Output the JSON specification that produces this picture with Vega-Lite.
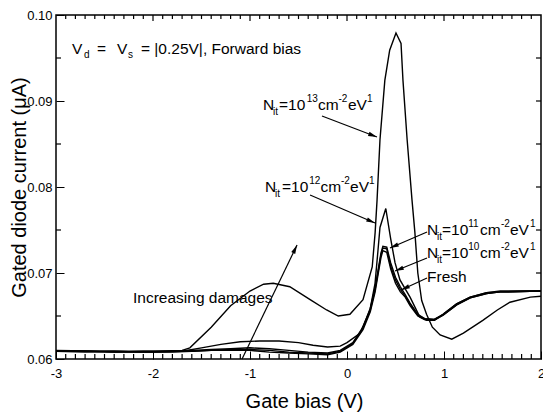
{
  "$schema": "https://vega.github.io/schema/vega-lite/v6.json",
  "width": 485,
  "height": 344,
  "autosize": {"type": "none"},
  "padding": {"left": 56, "top": 15, "right": 2, "bottom": 54},
  "background": "white",
  "config": {
    "view": {"stroke": "black", "strokeWidth": 1.5},
    "font": "Liberation Sans",
    "axis": {"grid": false, "domain": false, "labelColor": "black", "titleColor": "black", "tickColor": "black", "tickWidth": 1, "labelFlush": false, "labelOverlap": false}
  },
  "datasets": {
    "curves": [
      {"s": "Fresh", "x": -3, "y": 0.0609}, {"s": "Fresh", "x": -2.7, "y": 0.0609}, {"s": "Fresh", "x": -2.4, "y": 0.0608}, {"s": "Fresh", "x": -2.1, "y": 0.0608}, {"s": "Fresh", "x": -1.8, "y": 0.0608}, {"s": "Fresh", "x": -1.6, "y": 0.0609}, {"s": "Fresh", "x": -1.4, "y": 0.0610}, {"s": "Fresh", "x": -1.2, "y": 0.0610}, {"s": "Fresh", "x": -1.0, "y": 0.0610}, {"s": "Fresh", "x": -0.8, "y": 0.0608}, {"s": "Fresh", "x": -0.6, "y": 0.0607}, {"s": "Fresh", "x": -0.4, "y": 0.0606}, {"s": "Fresh", "x": -0.2, "y": 0.0605}, {"s": "Fresh", "x": -0.07, "y": 0.0608}, {"s": "Fresh", "x": 0.06, "y": 0.0617}, {"s": "Fresh", "x": 0.165, "y": 0.0634}, {"s": "Fresh", "x": 0.24, "y": 0.0655}, {"s": "Fresh", "x": 0.29, "y": 0.0678}, {"s": "Fresh", "x": 0.32, "y": 0.0698}, {"s": "Fresh", "x": 0.35, "y": 0.0718}, {"s": "Fresh", "x": 0.37, "y": 0.0726}, {"s": "Fresh", "x": 0.41, "y": 0.0724}, {"s": "Fresh", "x": 0.45, "y": 0.0705}, {"s": "Fresh", "x": 0.5, "y": 0.0688}, {"s": "Fresh", "x": 0.55, "y": 0.0678}, {"s": "Fresh", "x": 0.6, "y": 0.0672}, {"s": "Fresh", "x": 0.65, "y": 0.0662}, {"s": "Fresh", "x": 0.73, "y": 0.0650}, {"s": "Fresh", "x": 0.8, "y": 0.0646}, {"s": "Fresh", "x": 0.9, "y": 0.0645}, {"s": "Fresh", "x": 0.99, "y": 0.0651}, {"s": "Fresh", "x": 1.13, "y": 0.0663}, {"s": "Fresh", "x": 1.27, "y": 0.0671}, {"s": "Fresh", "x": 1.44, "y": 0.0676}, {"s": "Fresh", "x": 1.58, "y": 0.0678}, {"s": "Fresh", "x": 2.0, "y": 0.0679},
      {"s": "e10", "x": -3, "y": 0.0609}, {"s": "e10", "x": -2.7, "y": 0.0608}, {"s": "e10", "x": -2.4, "y": 0.0609}, {"s": "e10", "x": -2.1, "y": 0.0608}, {"s": "e10", "x": -1.8, "y": 0.0609}, {"s": "e10", "x": -1.6, "y": 0.0609}, {"s": "e10", "x": -1.4, "y": 0.0610}, {"s": "e10", "x": -1.2, "y": 0.0611}, {"s": "e10", "x": -1.0, "y": 0.0611}, {"s": "e10", "x": -0.8, "y": 0.0610}, {"s": "e10", "x": -0.6, "y": 0.0608}, {"s": "e10", "x": -0.4, "y": 0.0607}, {"s": "e10", "x": -0.2, "y": 0.0606}, {"s": "e10", "x": -0.07, "y": 0.0609}, {"s": "e10", "x": 0.06, "y": 0.0618}, {"s": "e10", "x": 0.165, "y": 0.0636}, {"s": "e10", "x": 0.24, "y": 0.0657}, {"s": "e10", "x": 0.29, "y": 0.0681}, {"s": "e10", "x": 0.32, "y": 0.0701}, {"s": "e10", "x": 0.35, "y": 0.0721}, {"s": "e10", "x": 0.37, "y": 0.0729}, {"s": "e10", "x": 0.41, "y": 0.0728}, {"s": "e10", "x": 0.45, "y": 0.0708}, {"s": "e10", "x": 0.5, "y": 0.0692}, {"s": "e10", "x": 0.55, "y": 0.0681}, {"s": "e10", "x": 0.6, "y": 0.0673}, {"s": "e10", "x": 0.65, "y": 0.0664}, {"s": "e10", "x": 0.73, "y": 0.0651}, {"s": "e10", "x": 0.8, "y": 0.0647}, {"s": "e10", "x": 0.9, "y": 0.0646}, {"s": "e10", "x": 0.99, "y": 0.0652}, {"s": "e10", "x": 1.13, "y": 0.0664}, {"s": "e10", "x": 1.27, "y": 0.0672}, {"s": "e10", "x": 1.44, "y": 0.0677}, {"s": "e10", "x": 1.58, "y": 0.0678}, {"s": "e10", "x": 2.0, "y": 0.0679},
      {"s": "e11", "x": -3, "y": 0.0609}, {"s": "e11", "x": -2.7, "y": 0.0609}, {"s": "e11", "x": -2.4, "y": 0.0608}, {"s": "e11", "x": -2.1, "y": 0.0609}, {"s": "e11", "x": -1.8, "y": 0.0609}, {"s": "e11", "x": -1.6, "y": 0.0610}, {"s": "e11", "x": -1.4, "y": 0.0611}, {"s": "e11", "x": -1.2, "y": 0.0612}, {"s": "e11", "x": -1.0, "y": 0.0613}, {"s": "e11", "x": -0.8, "y": 0.0612}, {"s": "e11", "x": -0.6, "y": 0.0610}, {"s": "e11", "x": -0.4, "y": 0.0608}, {"s": "e11", "x": -0.2, "y": 0.0607}, {"s": "e11", "x": -0.07, "y": 0.0610}, {"s": "e11", "x": 0.06, "y": 0.0619}, {"s": "e11", "x": 0.165, "y": 0.0637}, {"s": "e11", "x": 0.24, "y": 0.0659}, {"s": "e11", "x": 0.29, "y": 0.0683}, {"s": "e11", "x": 0.32, "y": 0.0703}, {"s": "e11", "x": 0.35, "y": 0.0723}, {"s": "e11", "x": 0.37, "y": 0.0731}, {"s": "e11", "x": 0.41, "y": 0.0730}, {"s": "e11", "x": 0.45, "y": 0.0712}, {"s": "e11", "x": 0.5, "y": 0.0695}, {"s": "e11", "x": 0.55, "y": 0.0684}, {"s": "e11", "x": 0.6, "y": 0.0675}, {"s": "e11", "x": 0.65, "y": 0.0665}, {"s": "e11", "x": 0.73, "y": 0.0652}, {"s": "e11", "x": 0.8, "y": 0.0647}, {"s": "e11", "x": 0.9, "y": 0.0646}, {"s": "e11", "x": 0.99, "y": 0.0651}, {"s": "e11", "x": 1.13, "y": 0.0663}, {"s": "e11", "x": 1.27, "y": 0.0671}, {"s": "e11", "x": 1.44, "y": 0.0676}, {"s": "e11", "x": 1.58, "y": 0.0678}, {"s": "e11", "x": 2.0, "y": 0.0679},
      {"s": "e12", "x": -3, "y": 0.0609}, {"s": "e12", "x": -2.5, "y": 0.0609}, {"s": "e12", "x": -2.0, "y": 0.0608}, {"s": "e12", "x": -1.7, "y": 0.0609}, {"s": "e12", "x": -1.5, "y": 0.0613}, {"s": "e12", "x": -1.3, "y": 0.0617}, {"s": "e12", "x": -1.1, "y": 0.0620}, {"s": "e12", "x": -0.9, "y": 0.0621}, {"s": "e12", "x": -0.7, "y": 0.0621}, {"s": "e12", "x": -0.5, "y": 0.0619}, {"s": "e12", "x": -0.35, "y": 0.0616}, {"s": "e12", "x": -0.2, "y": 0.0614}, {"s": "e12", "x": -0.07, "y": 0.0615}, {"s": "e12", "x": 0.0, "y": 0.0619}, {"s": "e12", "x": 0.134, "y": 0.0630}, {"s": "e12", "x": 0.237, "y": 0.0657}, {"s": "e12", "x": 0.289, "y": 0.0688}, {"s": "e12", "x": 0.32, "y": 0.0727}, {"s": "e12", "x": 0.34, "y": 0.0753}, {"s": "e12", "x": 0.40, "y": 0.0775}, {"s": "e12", "x": 0.45, "y": 0.0740}, {"s": "e12", "x": 0.495, "y": 0.0712}, {"s": "e12", "x": 0.546, "y": 0.0692}, {"s": "e12", "x": 0.65, "y": 0.0672}, {"s": "e12", "x": 0.75, "y": 0.0649}, {"s": "e12", "x": 0.82, "y": 0.0645}, {"s": "e12", "x": 0.9, "y": 0.0645}, {"s": "e12", "x": 0.99, "y": 0.0652}, {"s": "e12", "x": 1.13, "y": 0.0664}, {"s": "e12", "x": 1.27, "y": 0.0672}, {"s": "e12", "x": 1.44, "y": 0.0677}, {"s": "e12", "x": 1.58, "y": 0.0679}, {"s": "e12", "x": 2.0, "y": 0.0679},
      {"s": "e13", "x": -3, "y": 0.0610}, {"s": "e13", "x": -2.5, "y": 0.0609}, {"s": "e13", "x": -2.0, "y": 0.0609}, {"s": "e13", "x": -1.7, "y": 0.0610}, {"s": "e13", "x": -1.62, "y": 0.0613}, {"s": "e13", "x": -1.4, "y": 0.0637}, {"s": "e13", "x": -1.2, "y": 0.0662}, {"s": "e13", "x": -1.0, "y": 0.0679}, {"s": "e13", "x": -0.86, "y": 0.0687}, {"s": "e13", "x": -0.76, "y": 0.0688}, {"s": "e13", "x": -0.59, "y": 0.0684}, {"s": "e13", "x": -0.38, "y": 0.0669}, {"s": "e13", "x": -0.21, "y": 0.0657}, {"s": "e13", "x": -0.09, "y": 0.0650}, {"s": "e13", "x": 0.03, "y": 0.0652}, {"s": "e13", "x": 0.165, "y": 0.0669}, {"s": "e13", "x": 0.26, "y": 0.0707}, {"s": "e13", "x": 0.29, "y": 0.0747}, {"s": "e13", "x": 0.31, "y": 0.0785}, {"s": "e13", "x": 0.34, "y": 0.0855}, {"s": "e13", "x": 0.39, "y": 0.0924}, {"s": "e13", "x": 0.44, "y": 0.0959}, {"s": "e13", "x": 0.505, "y": 0.0979}, {"s": "e13", "x": 0.557, "y": 0.0967}, {"s": "e13", "x": 0.577, "y": 0.0924}, {"s": "e13", "x": 0.62, "y": 0.0855}, {"s": "e13", "x": 0.67, "y": 0.0785}, {"s": "e13", "x": 0.70, "y": 0.0747}, {"s": "e13", "x": 0.73, "y": 0.0700}, {"s": "e13", "x": 0.77, "y": 0.0668}, {"s": "e13", "x": 0.82, "y": 0.0652}, {"s": "e13", "x": 0.88, "y": 0.0637}, {"s": "e13", "x": 0.96, "y": 0.0628}, {"s": "e13", "x": 1.08, "y": 0.0623}, {"s": "e13", "x": 1.2, "y": 0.0630}, {"s": "e13", "x": 1.4, "y": 0.0645}, {"s": "e13", "x": 1.55, "y": 0.0657}, {"s": "e13", "x": 1.68, "y": 0.0666}, {"s": "e13", "x": 1.89, "y": 0.0672}, {"s": "e13", "x": 2.0, "y": 0.0673}
    ],
    "textMain": [
      {"t": "V", "x": -2.835, "y": 0.095465},
      {"t": "=", "x": -2.577, "y": 0.095465},
      {"t": "V", "x": -2.371, "y": 0.095465},
      {"t": "= |0.25V|, Forward bias", "x": -2.124, "y": 0.095465},
      {"t": "N", "x": -0.866, "y": 0.088953}, {"t": "=10", "x": -0.701, "y": 0.088953}, {"t": "cm", "x": -0.299, "y": 0.088953}, {"t": "eV", "x": 0.010, "y": 0.088953},
      {"t": "N", "x": -0.845, "y": 0.079419}, {"t": "=10", "x": -0.670, "y": 0.079419}, {"t": "cm", "x": -0.273, "y": 0.079419}, {"t": "eV", "x": 0.031, "y": 0.079419},
      {"t": "N", "x": 0.825, "y": 0.074419}, {"t": "=10", "x": 0.979, "y": 0.074419}, {"t": "cm", "x": 1.371, "y": 0.074419}, {"t": "eV", "x": 1.680, "y": 0.074419},
      {"t": "N", "x": 0.825, "y": 0.071744}, {"t": "=10", "x": 0.979, "y": 0.071744}, {"t": "cm", "x": 1.371, "y": 0.071744}, {"t": "eV", "x": 1.680, "y": 0.071744},
      {"t": "Fresh", "x": 0.825, "y": 0.068953},
      {"t": "Increasing damages", "x": -2.206, "y": 0.066512}
    ],
    "textScript": [
      {"t": "d", "x": -2.711, "y": 0.0950},
      {"t": "s", "x": -2.258, "y": 0.0950},
      {"t": "it", "x": -0.763, "y": 0.088372}, {"t": "13", "x": -0.416, "y": 0.089884}, {"t": "-2", "x": -0.088, "y": 0.089884}, {"t": "1", "x": 0.206, "y": 0.089884},
      {"t": "it", "x": -0.742, "y": 0.078837}, {"t": "12", "x": -0.390, "y": 0.080349}, {"t": "-2", "x": -0.062, "y": 0.080349}, {"t": "1", "x": 0.227, "y": 0.080349},
      {"t": "it", "x": 0.928, "y": 0.073837}, {"t": "11", "x": 1.250, "y": 0.075349}, {"t": "-2", "x": 1.588, "y": 0.075349}, {"t": "1", "x": 1.887, "y": 0.075349},
      {"t": "it", "x": 0.928, "y": 0.071163}, {"t": "10", "x": 1.250, "y": 0.072674}, {"t": "-2", "x": 1.588, "y": 0.072674}, {"t": "1", "x": 1.887, "y": 0.072674}
    ],
    "arrows": [
      {"k": "a", "x": -0.258, "y": 0.088256, "x2": 0.309, "y2": 0.085814},
      {"k": "a", "x": -0.381, "y": 0.079070, "x2": 0.289, "y2": 0.075814},
      {"k": "a", "x": 0.825, "y": 0.074767, "x2": 0.443, "y2": 0.072907},
      {"k": "a", "x": 0.825, "y": 0.071744, "x2": 0.495, "y2": 0.070233},
      {"k": "a", "x": 0.825, "y": 0.069419, "x2": 0.557, "y2": 0.068023},
      {"k": "a", "x": -1.082, "y": 0.0600, "x2": -0.515, "y2": 0.073256},
      {"k": "t", "x": -2.9, "y": 0.06, "x2": -2.9, "y2": 0.06058}, {"k": "t", "x": -2.8, "y": 0.06, "x2": -2.8, "y2": 0.06058}, {"k": "t", "x": -2.7, "y": 0.06, "x2": -2.7, "y2": 0.06058}, {"k": "t", "x": -2.6, "y": 0.06, "x2": -2.6, "y2": 0.06058}, {"k": "t", "x": -2.5, "y": 0.06, "x2": -2.5, "y2": 0.06058}, {"k": "t", "x": -2.4, "y": 0.06, "x2": -2.4, "y2": 0.06058}, {"k": "t", "x": -2.3, "y": 0.06, "x2": -2.3, "y2": 0.06058}, {"k": "t", "x": -2.2, "y": 0.06, "x2": -2.2, "y2": 0.06058}, {"k": "t", "x": -2.1, "y": 0.06, "x2": -2.1, "y2": 0.06058},
      {"k": "t", "x": -1.9, "y": 0.06, "x2": -1.9, "y2": 0.06058}, {"k": "t", "x": -1.8, "y": 0.06, "x2": -1.8, "y2": 0.06058}, {"k": "t", "x": -1.7, "y": 0.06, "x2": -1.7, "y2": 0.06058}, {"k": "t", "x": -1.6, "y": 0.06, "x2": -1.6, "y2": 0.06058}, {"k": "t", "x": -1.5, "y": 0.06, "x2": -1.5, "y2": 0.06058}, {"k": "t", "x": -1.4, "y": 0.06, "x2": -1.4, "y2": 0.06058}, {"k": "t", "x": -1.3, "y": 0.06, "x2": -1.3, "y2": 0.06058}, {"k": "t", "x": -1.2, "y": 0.06, "x2": -1.2, "y2": 0.06058}, {"k": "t", "x": -1.1, "y": 0.06, "x2": -1.1, "y2": 0.06058},
      {"k": "t", "x": -0.9, "y": 0.06, "x2": -0.9, "y2": 0.06058}, {"k": "t", "x": -0.8, "y": 0.06, "x2": -0.8, "y2": 0.06058}, {"k": "t", "x": -0.7, "y": 0.06, "x2": -0.7, "y2": 0.06058}, {"k": "t", "x": -0.6, "y": 0.06, "x2": -0.6, "y2": 0.06058}, {"k": "t", "x": -0.5, "y": 0.06, "x2": -0.5, "y2": 0.06058}, {"k": "t", "x": -0.4, "y": 0.06, "x2": -0.4, "y2": 0.06058}, {"k": "t", "x": -0.3, "y": 0.06, "x2": -0.3, "y2": 0.06058}, {"k": "t", "x": -0.2, "y": 0.06, "x2": -0.2, "y2": 0.06058}, {"k": "t", "x": -0.1, "y": 0.06, "x2": -0.1, "y2": 0.06058},
      {"k": "t", "x": 0.1, "y": 0.06, "x2": 0.1, "y2": 0.06058}, {"k": "t", "x": 0.2, "y": 0.06, "x2": 0.2, "y2": 0.06058}, {"k": "t", "x": 0.3, "y": 0.06, "x2": 0.3, "y2": 0.06058}, {"k": "t", "x": 0.4, "y": 0.06, "x2": 0.4, "y2": 0.06058}, {"k": "t", "x": 0.5, "y": 0.06, "x2": 0.5, "y2": 0.06058}, {"k": "t", "x": 0.6, "y": 0.06, "x2": 0.6, "y2": 0.06058}, {"k": "t", "x": 0.7, "y": 0.06, "x2": 0.7, "y2": 0.06058}, {"k": "t", "x": 0.8, "y": 0.06, "x2": 0.8, "y2": 0.06058}, {"k": "t", "x": 0.9, "y": 0.06, "x2": 0.9, "y2": 0.06058},
      {"k": "t", "x": 1.1, "y": 0.06, "x2": 1.1, "y2": 0.06058}, {"k": "t", "x": 1.2, "y": 0.06, "x2": 1.2, "y2": 0.06058}, {"k": "t", "x": 1.3, "y": 0.06, "x2": 1.3, "y2": 0.06058}, {"k": "t", "x": 1.4, "y": 0.06, "x2": 1.4, "y2": 0.06058}, {"k": "t", "x": 1.5, "y": 0.06, "x2": 1.5, "y2": 0.06058}, {"k": "t", "x": 1.6, "y": 0.06, "x2": 1.6, "y2": 0.06058}, {"k": "t", "x": 1.7, "y": 0.06, "x2": 1.7, "y2": 0.06058}, {"k": "t", "x": 1.8, "y": 0.06, "x2": 1.8, "y2": 0.06058}, {"k": "t", "x": 1.9, "y": 0.06, "x2": 1.9, "y2": 0.06058},
      {"k": "t", "x": -2, "y": 0.1, "x2": -2, "y2": 0.0993}, {"k": "t", "x": -1, "y": 0.1, "x2": -1, "y2": 0.0993}, {"k": "t", "x": 0, "y": 0.1, "x2": 0, "y2": 0.0993}, {"k": "t", "x": 1, "y": 0.1, "x2": 1, "y2": 0.0993},
      {"k": "t", "x": -2.9, "y": 0.1, "x2": -2.9, "y2": 0.09953}, {"k": "t", "x": -2.8, "y": 0.1, "x2": -2.8, "y2": 0.09953}, {"k": "t", "x": -2.7, "y": 0.1, "x2": -2.7, "y2": 0.09953}, {"k": "t", "x": -2.6, "y": 0.1, "x2": -2.6, "y2": 0.09953}, {"k": "t", "x": -2.5, "y": 0.1, "x2": -2.5, "y2": 0.09953}, {"k": "t", "x": -2.4, "y": 0.1, "x2": -2.4, "y2": 0.09953}, {"k": "t", "x": -2.3, "y": 0.1, "x2": -2.3, "y2": 0.09953}, {"k": "t", "x": -2.2, "y": 0.1, "x2": -2.2, "y2": 0.09953}, {"k": "t", "x": -2.1, "y": 0.1, "x2": -2.1, "y2": 0.09953},
      {"k": "t", "x": -1.9, "y": 0.1, "x2": -1.9, "y2": 0.09953}, {"k": "t", "x": -1.8, "y": 0.1, "x2": -1.8, "y2": 0.09953}, {"k": "t", "x": -1.7, "y": 0.1, "x2": -1.7, "y2": 0.09953}, {"k": "t", "x": -1.6, "y": 0.1, "x2": -1.6, "y2": 0.09953}, {"k": "t", "x": -1.5, "y": 0.1, "x2": -1.5, "y2": 0.09953}, {"k": "t", "x": -1.4, "y": 0.1, "x2": -1.4, "y2": 0.09953}, {"k": "t", "x": -1.3, "y": 0.1, "x2": -1.3, "y2": 0.09953}, {"k": "t", "x": -1.2, "y": 0.1, "x2": -1.2, "y2": 0.09953}, {"k": "t", "x": -1.1, "y": 0.1, "x2": -1.1, "y2": 0.09953},
      {"k": "t", "x": -0.9, "y": 0.1, "x2": -0.9, "y2": 0.09953}, {"k": "t", "x": -0.8, "y": 0.1, "x2": -0.8, "y2": 0.09953}, {"k": "t", "x": -0.7, "y": 0.1, "x2": -0.7, "y2": 0.09953}, {"k": "t", "x": -0.6, "y": 0.1, "x2": -0.6, "y2": 0.09953}, {"k": "t", "x": -0.5, "y": 0.1, "x2": -0.5, "y2": 0.09953}, {"k": "t", "x": -0.4, "y": 0.1, "x2": -0.4, "y2": 0.09953}, {"k": "t", "x": -0.3, "y": 0.1, "x2": -0.3, "y2": 0.09953}, {"k": "t", "x": -0.2, "y": 0.1, "x2": -0.2, "y2": 0.09953}, {"k": "t", "x": -0.1, "y": 0.1, "x2": -0.1, "y2": 0.09953},
      {"k": "t", "x": 0.1, "y": 0.1, "x2": 0.1, "y2": 0.09953}, {"k": "t", "x": 0.2, "y": 0.1, "x2": 0.2, "y2": 0.09953}, {"k": "t", "x": 0.3, "y": 0.1, "x2": 0.3, "y2": 0.09953}, {"k": "t", "x": 0.4, "y": 0.1, "x2": 0.4, "y2": 0.09953}, {"k": "t", "x": 0.5, "y": 0.1, "x2": 0.5, "y2": 0.09953}, {"k": "t", "x": 0.6, "y": 0.1, "x2": 0.6, "y2": 0.09953}, {"k": "t", "x": 0.7, "y": 0.1, "x2": 0.7, "y2": 0.09953}, {"k": "t", "x": 0.8, "y": 0.1, "x2": 0.8, "y2": 0.09953}, {"k": "t", "x": 0.9, "y": 0.1, "x2": 0.9, "y2": 0.09953},
      {"k": "t", "x": 1.1, "y": 0.1, "x2": 1.1, "y2": 0.09953}, {"k": "t", "x": 1.2, "y": 0.1, "x2": 1.2, "y2": 0.09953}, {"k": "t", "x": 1.3, "y": 0.1, "x2": 1.3, "y2": 0.09953}, {"k": "t", "x": 1.4, "y": 0.1, "x2": 1.4, "y2": 0.09953}, {"k": "t", "x": 1.5, "y": 0.1, "x2": 1.5, "y2": 0.09953}, {"k": "t", "x": 1.6, "y": 0.1, "x2": 1.6, "y2": 0.09953}, {"k": "t", "x": 1.7, "y": 0.1, "x2": 1.7, "y2": 0.09953}, {"k": "t", "x": 1.8, "y": 0.1, "x2": 1.8, "y2": 0.09953}, {"k": "t", "x": 1.9, "y": 0.1, "x2": 1.9, "y2": 0.09953},
      {"k": "t", "x": -3, "y": 0.065, "x2": -2.9485, "y2": 0.065}, {"k": "t", "x": -3, "y": 0.075, "x2": -2.9485, "y2": 0.075}, {"k": "t", "x": -3, "y": 0.085, "x2": -2.9485, "y2": 0.085}, {"k": "t", "x": -3, "y": 0.095, "x2": -2.9485, "y2": 0.095},
      {"k": "t", "x": 2, "y": 0.065, "x2": 1.9485, "y2": 0.065}, {"k": "t", "x": 2, "y": 0.07, "x2": 1.9485, "y2": 0.07}, {"k": "t", "x": 2, "y": 0.075, "x2": 1.9485, "y2": 0.075}, {"k": "t", "x": 2, "y": 0.08, "x2": 1.9485, "y2": 0.08}, {"k": "t", "x": 2, "y": 0.085, "x2": 1.9485, "y2": 0.085}, {"k": "t", "x": 2, "y": 0.09, "x2": 1.9485, "y2": 0.09}, {"k": "t", "x": 2, "y": 0.095, "x2": 1.9485, "y2": 0.095}
    ]
  },
  "layer": [
    {
      "data": {"name": "curves"},
      "mark": {"type": "line", "stroke": "black", "strokeWidth": 1.4},
      "encoding": {
        "x": {"field": "x", "type": "quantitative", "scale": {"domain": [-3, 2], "nice": false, "zero": false},
          "axis": {"orient": "bottom", "values": [-3, -2, -1, 0, 1, 2], "ticks": true, "tickSize": -8, "labelPadding": 16, "labelFontSize": 13,
            "labelExpr": "datum.value < 0 ? '-' + abs(datum.value) : '' + datum.value",
            "title": "Gate bias (V)", "titleFontSize": 20, "titleFontWeight": "normal", "titleX": 248, "titleY": 48, "titleBaseline": "alphabetic"}},
        "y": {"field": "y", "type": "quantitative", "scale": {"domain": [0.06, 0.10], "nice": false, "zero": false},
          "axis": {"orient": "left", "values": [0.06, 0.07, 0.08, 0.09, 0.10], "ticks": true, "tickSize": -8, "labelPadding": 12, "labelFontSize": 13, "format": ".2f",
            "title": "Gated diode current (μA)", "titleFontSize": 20, "titleFontWeight": "normal", "titleX": -31, "titleY": 172, "titleBaseline": "alphabetic"}},
        "detail": {"field": "s", "type": "nominal"}
      }
    },
    {
      "data": {"name": "arrows"},
      "mark": {"type": "rule", "stroke": "black", "strokeWidth": 1.2},
      "encoding": {
        "x": {"field": "x", "type": "quantitative"},
        "y": {"field": "y", "type": "quantitative"},
        "x2": {"field": "x2"},
        "y2": {"field": "y2"}
      }
    },
    {
      "data": {"name": "arrows"},
      "transform": [
        {"filter": "datum.k == 'a'"},
        {"calculate": "atan2((datum.x2 - datum.x) * 97, (datum.y2 - datum.y) * 8600) * 180 / PI", "as": "ang"}
      ],
      "mark": {"type": "point", "shape": "M0,0L0.55,2.2L-0.55,2.2Z", "filled": true, "color": "black", "opacity": 1, "size": 64},
      "encoding": {
        "x": {"field": "x2", "type": "quantitative"},
        "y": {"field": "y2", "type": "quantitative"},
        "angle": {"field": "ang", "type": "quantitative", "scale": null}
      }
    },
    {
      "data": {"name": "textMain"},
      "mark": {"type": "text", "align": "left", "baseline": "alphabetic", "fontSize": 15.5, "color": "black"},
      "encoding": {
        "x": {"field": "x", "type": "quantitative"},
        "y": {"field": "y", "type": "quantitative"},
        "text": {"field": "t"}
      }
    },
    {
      "data": {"name": "textScript"},
      "mark": {"type": "text", "align": "left", "baseline": "alphabetic", "fontSize": 10, "color": "black"},
      "encoding": {
        "x": {"field": "x", "type": "quantitative"},
        "y": {"field": "y", "type": "quantitative"},
        "text": {"field": "t"}
      }
    }
  ]
}
